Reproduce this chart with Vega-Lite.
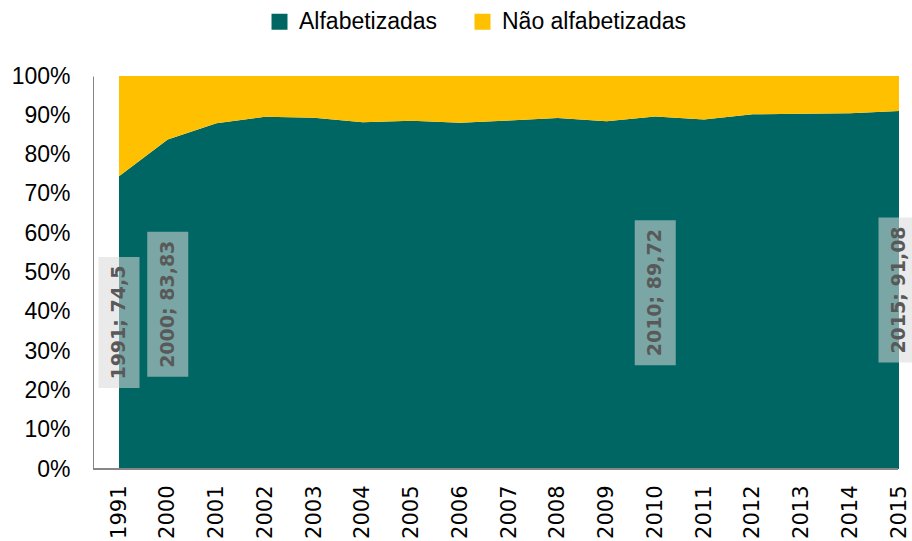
{
  "$schema": "https://vega.github.io/schema/vega-lite/v6.json",
  "width": 805,
  "height": 393,
  "autosize": {"type": "none"},
  "padding": {"left": 93, "top": 76, "right": 14, "bottom": 72},
  "background": "white",
  "config": {
    "view": {"stroke": null},
    "axisY": {
      "title": null,
      "labelFont": "Liberation Sans",
      "labelFontSize": 23,
      "labelColor": "#000000",
      "labelOverlap": false,
      "ticks": false,
      "labelPadding": 23,
      "domainColor": "#868686",
      "domainWidth": 1,
      "grid": false
    }
  },
  "datasets": {
    "main": [
      {"year": "1991", "group": "Alfabetizadas", "value": 74.5},
      {"year": "2000", "group": "Alfabetizadas", "value": 83.83},
      {"year": "2001", "group": "Alfabetizadas", "value": 88.0},
      {"year": "2002", "group": "Alfabetizadas", "value": 89.6},
      {"year": "2003", "group": "Alfabetizadas", "value": 89.4},
      {"year": "2004", "group": "Alfabetizadas", "value": 88.2},
      {"year": "2005", "group": "Alfabetizadas", "value": 88.6},
      {"year": "2006", "group": "Alfabetizadas", "value": 88.1},
      {"year": "2007", "group": "Alfabetizadas", "value": 88.7},
      {"year": "2008", "group": "Alfabetizadas", "value": 89.3},
      {"year": "2009", "group": "Alfabetizadas", "value": 88.5},
      {"year": "2010", "group": "Alfabetizadas", "value": 89.72},
      {"year": "2011", "group": "Alfabetizadas", "value": 88.9},
      {"year": "2012", "group": "Alfabetizadas", "value": 90.25},
      {"year": "2013", "group": "Alfabetizadas", "value": 90.4},
      {"year": "2014", "group": "Alfabetizadas", "value": 90.5},
      {"year": "2015", "group": "Alfabetizadas", "value": 91.08},
      {"year": "1991", "group": "Não alfabetizadas", "value": 25.5},
      {"year": "2000", "group": "Não alfabetizadas", "value": 16.17},
      {"year": "2001", "group": "Não alfabetizadas", "value": 12.0},
      {"year": "2002", "group": "Não alfabetizadas", "value": 10.4},
      {"year": "2003", "group": "Não alfabetizadas", "value": 10.6},
      {"year": "2004", "group": "Não alfabetizadas", "value": 11.8},
      {"year": "2005", "group": "Não alfabetizadas", "value": 11.4},
      {"year": "2006", "group": "Não alfabetizadas", "value": 11.9},
      {"year": "2007", "group": "Não alfabetizadas", "value": 11.3},
      {"year": "2008", "group": "Não alfabetizadas", "value": 10.7},
      {"year": "2009", "group": "Não alfabetizadas", "value": 11.5},
      {"year": "2010", "group": "Não alfabetizadas", "value": 10.28},
      {"year": "2011", "group": "Não alfabetizadas", "value": 11.1},
      {"year": "2012", "group": "Não alfabetizadas", "value": 9.75},
      {"year": "2013", "group": "Não alfabetizadas", "value": 9.6},
      {"year": "2014", "group": "Não alfabetizadas", "value": 9.5},
      {"year": "2015", "group": "Não alfabetizadas", "value": 8.92}
    ],
    "labels": [
      {"year": "1991", "value": 74.5, "label": "1991; 74,5"},
      {"year": "2000", "value": 83.83, "label": "2000; 83,83"},
      {"year": "2010", "value": 89.72, "label": "2010; 89,72"},
      {"year": "2015", "value": 91.08, "label": "2015; 91,08"}
    ]
  },
  "layer": [
    {
      "data": {"name": "main"},
      "mark": {"type": "area", "interpolate": "linear", "opacity": 1},
      "encoding": {
        "x": {
          "field": "year",
          "type": "ordinal",
          "scale": {"type": "point", "range": [26, 806], "padding": 0},
          "axis": {
            "title": null,
            "labelAngle": -90,
            "labelFont": "DejaVu Sans",
            "labelFontSize": 21,
            "labelColor": "#000000",
            "labelPadding": 16,
            "ticks": false,
            "domain": false,
            "grid": false,
            "labelOverlap": false
          }
        },
        "y": {
          "field": "value",
          "type": "quantitative",
          "stack": "zero",
          "scale": {"domain": [0, 100], "nice": false},
          "axis": {"values": [0, 10, 20, 30, 40, 50, 60, 70, 80, 90, 100], "labelExpr": "datum.value + '%'"}
        },
        "color": {
          "field": "group",
          "type": "nominal",
          "scale": {"domain": ["Alfabetizadas", "Não alfabetizadas"], "range": ["#006663", "#FFC000"]},
          "legend": {
            "orient": "none",
            "legendX": 175,
            "legendY": -66,
            "direction": "horizontal",
            "title": null,
            "symbolType": "square",
            "symbolSize": 256,
            "symbolOpacity": 1,
            "symbolStrokeWidth": 0,
            "labelFont": "Liberation Sans",
            "labelFontSize": 23,
            "labelColor": "#000000",
            "labelOffset": 8,
            "labelLimit": 400,
            "columnPadding": 33,
            "padding": 0
          }
        },
        "order": {"field": "group", "sort": "ascending"}
      }
    },
    {
      "data": {"name": "main"},
      "mark": {"type": "rule", "color": "#868686", "strokeWidth": 1},
      "encoding": {
        "y": {"datum": 0, "type": "quantitative", "axis": {"values": [0, 10, 20, 30, 40, 50, 60, 70, 80, 90, 100], "labelExpr": "datum.value + '%'"}}
      }
    },
    {
      "data": {"name": "labels"},
      "transform": [{"calculate": "datum.value / 2", "as": "mid"}],
      "mark": {"type": "point", "filled": true, "color": "#D9D9D9", "opacity": 0.56, "strokeWidth": 0},
      "encoding": {
        "x": {"field": "year", "type": "ordinal"},
        "y": {"field": "mid", "type": "quantitative", "axis": {"values": [0, 10, 20, 30, 40, 50, 60, 70, 80, 90, 100], "labelExpr": "datum.value + '%'"}},
        "shape": {
          "condition": {"test": "datum.year === '1991'", "value": "M-0.313,-1H0.313V1H-0.313Z"},
          "value": "M-0.283,-1H0.283V1H-0.283Z"
        },
        "size": {
          "condition": {"test": "datum.year === '1991'", "value": 17161},
          "value": 21025
        }
      }
    },
    {
      "data": {"name": "labels"},
      "transform": [{"calculate": "datum.value / 2", "as": "mid"}],
      "mark": {
        "type": "text",
        "angle": 270,
        "font": "DejaVu Sans",
        "fontWeight": "bold",
        "fontSize": 19,
        "color": "#595959",
        "align": "center",
        "baseline": "middle"
      },
      "encoding": {
        "x": {"field": "year", "type": "ordinal"},
        "y": {"field": "mid", "type": "quantitative", "axis": {"values": [0, 10, 20, 30, 40, 50, 60, 70, 80, 90, 100], "labelExpr": "datum.value + '%'"}},
        "text": {"field": "label"}
      }
    }
  ]
}
